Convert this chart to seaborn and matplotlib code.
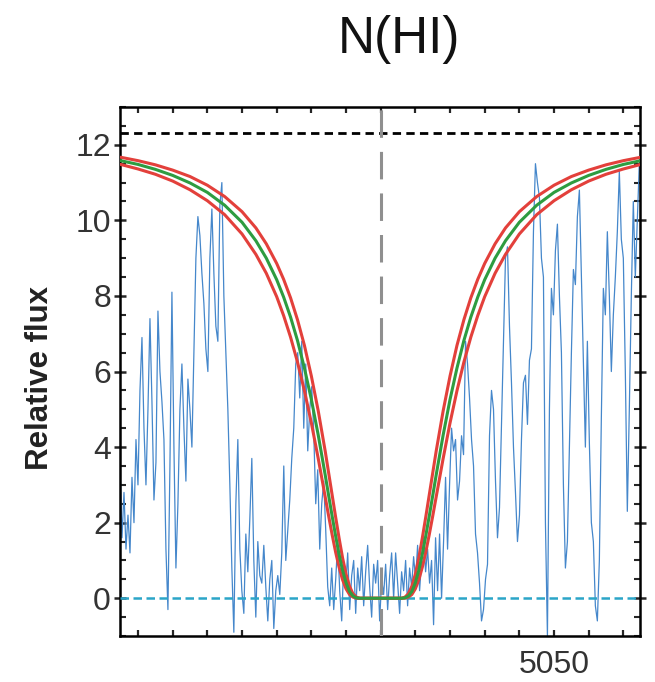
import numpy as np
import pandas as pd
import matplotlib
matplotlib.use("Agg")
import matplotlib.pyplot as plt
from matplotlib.ticker import MultipleLocator
import seaborn as sns

# ---------------- data ----------------
# observed spectrum: relative flux sampled on a uniform wavelength grid (Angstrom)
wave_start = 4924.8
wave_end = 5074.6
flux = [
    3.5, 1.6, 2.8, 1.3, 2.2, 1.2, 3.2, 2.0, 4.2, 3.0,
    5.5, 6.9, 4.5, 3.0, 5.0, 7.4, 5.2, 2.6, 3.6, 7.6,
    6.0, 5.2, 4.2, 1.3, -0.3, 3.5, 8.1, 4.0, 0.8, 2.5,
    5.0, 6.2, 4.5, 3.1, 5.8, 5.0, 4.0, 6.5, 9.0, 10.1,
    9.6, 8.6, 7.8, 6.6, 6.0, 9.0, 10.3, 8.6, 7.2, 6.8,
    10.4, 11.0, 8.0, 6.5, 5.0, 3.0, 0.8, -0.9, 2.5, 4.2,
    1.3, 0.2, -0.4, 1.7, 0.7, 2.1, 3.7, 1.0, -0.5, 1.5,
    0.6, 0.4, 1.4, 0.3, -0.6, 0.5, 1.0, -0.8, 0.2, 0.6,
    0.1, 1.2, 3.5, 1.0, 1.8, 2.6, 3.7, 4.5, 6.2, 6.5,
    5.3, 6.8, 4.5, 6.2, 3.9, 5.0, 5.6, 4.4, 2.5, 3.4,
    1.3, 2.5, 3.1, 1.8, 0.3, -0.2, 0.8, -0.3, 0.5, 1.5,
    0.2, -0.6, 0.9, 0.3, 1.2, -0.3, 0.6, 1.0, -0.4, 0.8,
    0.2, 1.1, -0.2, 0.7, 1.4, 0.3, -0.5, 0.9, 0.4, 1.0,
    -0.6, 0.5, 0.1, 0.9, -0.3, 0.6, 1.2, 0.0, 1.2, 0.4,
    -0.4, 0.7, 0.2, 1.0, -0.2, 0.8, 0.3, 1.1, 0.5, 1.4,
    0.2, 1.0, 1.6, 0.7, 1.3, 0.4, 1.0, -0.7, 1.6, 0.2,
    1.7, 0.0, 1.5, 3.2, 1.3, 3.0, 4.5, 3.9, 4.2, 2.6,
    3.1, 4.3, 3.8, 6.8, 6.2, 5.3, 4.2, 3.5, 1.7, 1.2,
    0.4, -0.6, -0.3, 0.5, 0.9, 4.3, 5.5, 5.0, 3.1, 1.6,
    2.4, 4.6, 6.9, 9.0, 9.3, 7.2, 5.7, 4.0, 2.8, 1.5,
    2.2, 4.2, 5.7, 5.9, 4.6, 6.3, 6.6, 9.7, 11.5, 11.0,
    10.6, 9.0, 8.5, 2.0, -1.0, 5.0, 8.2, 7.5, 9.2, 9.9,
    8.0, 6.5, 3.0, 0.8, 1.5, 4.0, 6.5, 8.7, 8.3, 10.1,
    10.8, 8.5, 6.2, 4.0, 6.8, 4.1, 2.0, 1.5, -0.2, -0.6,
    1.0, 4.8, 8.2, 7.5, 9.7, 8.0, 6.0, 7.5, 8.5, 9.7,
    11.3, 9.5, 9.0, 6.0, 2.3, 5.0, 8.0, 10.5, 8.5, 10.0,
    11.5,
]

# damped Lyman-alpha model profiles (best fit and +/- range)
model_wave = [
    4925, 4930, 4935, 4940, 4945, 4950, 4955, 4960, 4964, 4967,
    4970, 4972, 4974, 4976, 4978, 4980, 4982, 4984, 4985, 4986,
    4987, 4988, 4989, 4990, 4991, 4992, 4993, 4994, 5000, 5006,
    5007, 5008, 5009, 5010, 5011, 5012, 5013, 5014, 5015, 5016,
    5018, 5020, 5022, 5024, 5026, 5028, 5030, 5033, 5036, 5040,
    5045, 5050, 5055, 5060, 5065, 5070, 5075,
]
model_best = [
    11.58, 11.48, 11.35, 11.19, 10.99, 10.74, 10.40, 9.95, 9.46, 9.00,
    8.43, 7.97, 7.44, 6.82, 6.09, 5.26, 4.31, 3.26, 2.71, 2.17,
    1.65, 1.16, 0.74, 0.41, 0.18, 0.06, 0.01, 0.00, 0.00, 0.00,
    0.01, 0.06, 0.18, 0.41, 0.74, 1.16, 1.65, 2.17, 2.71, 3.26,
    4.31, 5.26, 6.09, 6.82, 7.44, 7.97, 8.43, 9.00, 9.46, 9.95,
    10.40, 10.74, 10.99, 11.19, 11.35, 11.48, 11.58,
]
model_low_N = [
    11.67, 11.58, 11.47, 11.33, 11.16, 10.93, 10.63, 10.23, 9.80, 9.38,
    8.86, 8.44, 7.95, 7.37, 6.69, 5.88, 4.95, 3.89, 3.31, 2.73,
    2.15, 1.59, 1.07, 0.64, 0.32, 0.12, 0.03, 0.00, 0.00, 0.00,
    0.03, 0.12, 0.32, 0.64, 1.07, 1.59, 2.15, 2.73, 3.31, 3.89,
    4.95, 5.88, 6.69, 7.37, 7.95, 8.44, 8.86, 9.38, 9.80, 10.23,
    10.63, 10.93, 11.16, 11.33, 11.47, 11.58, 11.67,
]
model_high_N = [
    11.48, 11.36, 11.22, 11.04, 10.81, 10.52, 10.15, 9.64, 9.10, 8.60,
    7.98, 7.48, 6.91, 6.25, 5.49, 4.64, 3.69, 2.68, 2.17, 1.68,
    1.22, 0.82, 0.49, 0.25, 0.10, 0.03, 0.00, 0.00, 0.00, 0.00,
    0.00, 0.03, 0.10, 0.25, 0.49, 0.82, 1.22, 1.68, 2.17, 2.68,
    3.69, 4.64, 5.49, 6.25, 6.91, 7.48, 7.98, 8.60, 9.10, 9.64,
    10.15, 10.52, 10.81, 11.04, 11.22, 11.36, 11.48,
]

continuum_level = 12.3
zero_level = 0.0
line_center = 5000.0

x_ticks = [4930, 4940, 4950, 4960, 4970, 4980, 4990, 5000,
           5010, 5020, 5030, 5040, 5050, 5060, 5070]
x_tick_labels = ["", "", "", "", "", "", "", "",
                 "", "", "", "", "5050", "", ""]
y_ticks = [0, 2, 4, 6, 8, 10, 12]
y_tick_labels = ["0", "2", "4", "6", "8", "10", "12"]

title_text = "N(HI)"
ylabel_text = "Relative flux"

# ---------------- plotting ----------------
sns.set_style("ticks")
plt.rcParams["font.family"] = ["Liberation Sans", "DejaVu Sans"]

fig = plt.figure(figsize=(6.55, 6.82), dpi=100)
ax = fig.add_axes([0.1832, 0.0674, 0.7939, 0.7757])

wave = np.linspace(wave_start, wave_end, len(flux))
spec_df = pd.DataFrame({"wave": wave, "flux": flux})
sns.lineplot(data=spec_df, x="wave", y="flux", ax=ax, color="#4587cb",
             lw=0.9, estimator=None, sort=False, zorder=2)

model_df = pd.DataFrame({"wave": model_wave, "best": model_best,
                         "low": model_low_N, "high": model_high_N})
for col, c in [("high", "#e3403b"), ("low", "#e3403b"), ("best", "#2e9c40")]:
    sns.lineplot(data=model_df, x="wave", y=col, ax=ax, color=c, lw=2.2,
                 estimator=None, sort=False, zorder=4)

ax.axhline(continuum_level, color="black", lw=2.0, ls=(0, (3.0, 1.9)), zorder=3)
ax.axhline(zero_level, color="#2ba5c8", lw=1.8, ls=(0, (3.4, 1.8)), zorder=3)
ax.axvline(line_center, color="#8f8f8f", lw=2.2, ls=(0, (9.0, 4.6)), zorder=3)

ax.set_xlim(4924.8, 5074.8)
ax.set_ylim(-1, 13)
ax.set_xticks(x_ticks)
ax.set_xticklabels(x_tick_labels)
ax.set_yticks(y_ticks)
ax.set_yticklabels(y_tick_labels)
ax.yaxis.set_minor_locator(MultipleLocator(0.5))
ax.set_xlabel("")
ax.set_ylabel("")

ax.tick_params(axis="y", which="major", direction="inout", length=9, width=1.8,
               left=True, right=True, labelsize=23, labelcolor="#333333", pad=2)
ax.tick_params(axis="y", which="minor", direction="in", length=4, width=1.5,
               left=True, right=True)
ax.tick_params(axis="x", which="major", direction="in", length=4.5, width=1.6,
               top=True, bottom=True, labelsize=23, labelcolor="#333333", pad=10)
for sp in ax.spines.values():
    sp.set_linewidth(1.8)
    sp.set_color("black")

fig.text(399 / 655, 1 - 40 / 682, title_text, ha="center", va="center",
         fontsize=37, color="#111111")
fig.text(40 / 655, 1 - 378 / 682, ylabel_text, ha="center", va="center",
         rotation=90, fontsize=22.5, fontweight="bold", color="#222222")

fig.savefig("out.png", dpi=100)
